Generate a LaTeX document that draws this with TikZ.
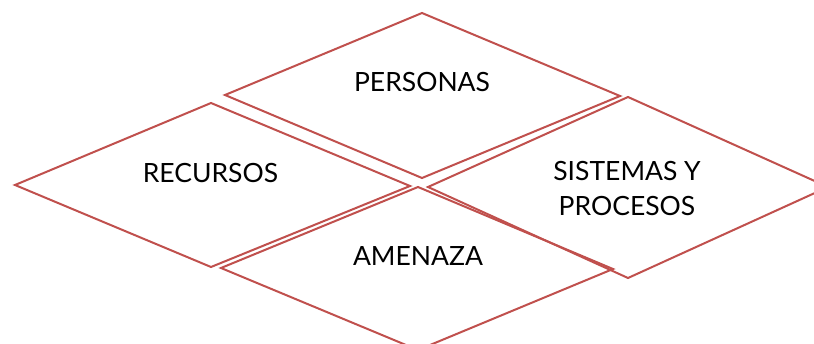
\documentclass[tikz,border=0pt]{standalone}
\usepackage{fontspec}
\setmainfont{Lato}
\definecolor{dred}{RGB}{192,80,77}
\begin{document}
\begin{tikzpicture}[x=1pt,y=-1pt,
  dia/.style={draw=dred,line width=2pt,line join=miter},
  lbl/.style={font=\fontsize{26.5}{35}\selectfont,text=black,inner sep=0pt,align=center}]
\useasboundingbox (0,0) rectangle (814,344);
\clip (0,0) rectangle (814,344);
\draw[dia] (422,13) -- (620,96) -- (422,178) -- (225,95) -- cycle;
\draw[dia] (211,103) -- (410,186) -- (211,267) -- (15,185) -- cycle;
\draw[dia] (628,97) -- (828,187) -- (628,278) -- (428,187) -- cycle;
\draw[dia] (418,187) -- (613,269) -- (418,350) -- (221,268) -- cycle;
\node[lbl] (personas) at (422,82.5) {PERSONAS};
\node[lbl] (recursos) at (210.5,173) {RECURSOS};
\node[lbl] (sistemas) at (627,188.5) {SISTEMAS Y\\PROCESOS};
\node[lbl] (amenaza) at (418,256) {AMENAZA};
\end{tikzpicture}
\end{document}
